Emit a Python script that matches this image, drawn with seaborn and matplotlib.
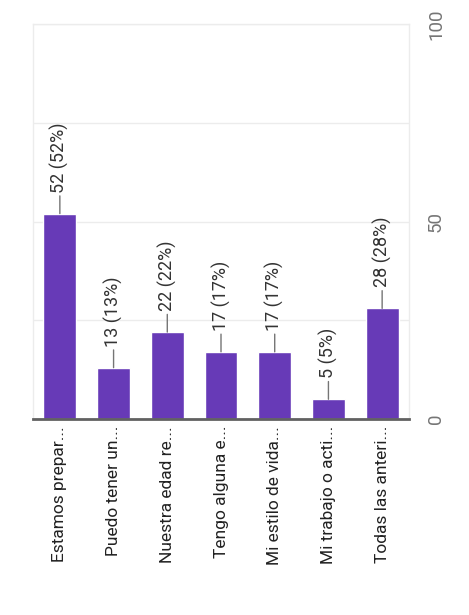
import matplotlib
matplotlib.use("Agg")
import matplotlib.pyplot as plt
import seaborn as sns
import pandas as pd

categories = [
    "Estamos prepar...",
    "Puedo tener un...",
    "Nuestra edad re...",
    "Tengo alguna e...",
    "Mi estilo de vida...",
    "Mi trabajo o acti...",
    "Todas las anteri...",
]
counts = [52, 13, 22, 17, 17, 5, 28]
percents = [52, 13, 22, 17, 17, 5, 28]
value_ticks = [0, 50, 100]
minor_ticks = [25, 75]

sns.set_theme(style="white")
plt.rcParams["font.family"] = ["Roboto", "DejaVu Sans"]

df = pd.DataFrame({"cat": categories, "n": counts})

fig = plt.figure(figsize=(4.69, 6.15), dpi=100)
ax = fig.add_axes([33 / 469, 196 / 615, 376 / 469, 395 / 615])

sns.barplot(data=df, x="cat", y="n", color="#673ab7", saturation=1,
            width=0.61, ax=ax, zorder=3)

ax.set_ylim(0, 100)
ax.set_xlim(-0.5, len(categories) - 0.5)
ax.set_xlabel("")
ax.set_ylabel("")

# value axis on the right, grid lines every 25
ax.yaxis.tick_right()
ax.set_yticks(value_ticks)
ax.set_yticks(minor_ticks, minor=True)
ax.set_yticklabels([str(v) for v in value_ticks], rotation=90, va="center",
                   color="#757575", fontsize=13.5)
ax.tick_params(axis="y", which="both", length=0, pad=13)
ax.grid(axis="y", which="both", color="#ececec", linewidth=1, zorder=0)

ax.set_xticks(range(len(categories)))
ax.set_xticklabels(categories, rotation=90, ha="center", va="top",
                   color="#222222", fontsize=12.5)
ax.tick_params(axis="x", length=0, pad=5)

for side in ("left", "right", "top"):
    ax.spines[side].set_color("#ececec")
    ax.spines[side].set_linewidth(1)
ax.spines["bottom"].set_color("#616161")
ax.spines["bottom"].set_linewidth(2)
ax.spines["bottom"].set_zorder(5)

# value labels with leader lines above each bar
for i, (n, p) in enumerate(zip(counts, percents)):
    ax.annotate(f"{n} ({p}%)", xy=(i, n), xytext=(0, 21),
                textcoords="offset pixels", rotation=90,
                ha="center", va="bottom", fontsize=13, color="#333333",
                arrowprops=dict(arrowstyle="-", color="#757575", lw=1,
                                shrinkA=0, shrinkB=0))

fig.savefig("out.png", dpi=100, facecolor="white")
